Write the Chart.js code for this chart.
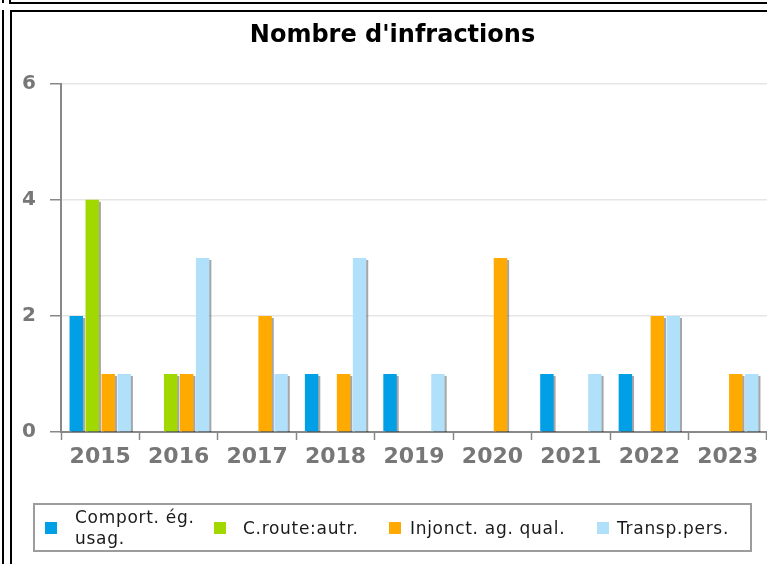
<!DOCTYPE html>
<html>
<head>
<meta charset="utf-8">
<script src="https://cdn.jsdelivr.net/npm/chart.js@4"></script>
<style>
  html, body { margin: 0; padding: 0; background: #fff; }
  #wrap { position: relative; width: 767px; height: 564px; overflow: hidden; }
  #c { position: absolute; left: 0; top: 0; }
  .ln { position: absolute; background: #000; }
  #legend {
    position: absolute; left: 33px; top: 503px; width: 719px; height: 49px;
    box-sizing: border-box; border: 2px solid #9c9c9c;
    font-family: "DejaVu Sans", sans-serif; font-size: 17px; letter-spacing: 0.7px; color: #1a1a1a;
  }
  .sw { position: absolute; width: 12px; height: 12px; top: 17px; }
  .tx { position: absolute; white-space: pre; line-height: 21px; top: 50%; transform: translateY(-50%); }
</style>
</head>
<body>
<div id="wrap">
  <canvas id="c" width="767" height="564"></canvas>
  <div class="ln" style="left:2px;top:0;width:2px;height:3px"></div>
  <div class="ln" style="left:2px;top:10px;width:2px;height:554px"></div>
  <div class="ln" style="left:9px;top:0;width:2px;height:3px"></div>
  <div class="ln" style="left:9px;top:2px;width:758px;height:2px"></div>
  <div class="ln" style="left:10px;top:10px;width:757px;height:2px"></div>
  <div class="ln" style="left:10px;top:10px;width:2px;height:554px"></div>
  <div id="legend"></div>
</div>
<script>
const categories = ['2015', '2016', '2017', '2018', '2019', '2020', '2021', '2022', '2023'];
const seriesNames = ['Comport. ég.\nusag.', 'C.route:autr.', 'Injonct. ag. qual.', 'Transp.pers.'];
const comportEgUsag = [2, 0, 0, 1, 1, 0, 1, 1, 0];
const crouteAutr    = [4, 1, 0, 0, 0, 0, 0, 0, 0];
const injonctAgQual = [1, 1, 2, 1, 0, 3, 0, 2, 1];
const transpPers    = [1, 3, 1, 3, 1, 0, 1, 2, 1];
const yTicks = [0, 2, 4, 6];

const seriesValues = [comportEgUsag, crouteAutr, injonctAgQual, transpPers];
const seriesColors = ['#009fe6', '#a0d800', '#ffaa00', '#b0e0fa'];
// legend item positions (square left, text left) relative to page
const legendSwatchX = [45, 214, 389, 597];
const legendTextX = [75, 243, 410, 617];

const shadowPlugin = {
  id: 'barShadow',
  beforeDatasetsDraw(chart) {
    const ctx = chart.ctx;
    ctx.save();
    ctx.shadowColor = 'rgba(0,0,0,0.35)';
    ctx.shadowOffsetX = 2;
    ctx.shadowOffsetY = 2;
    ctx.shadowBlur = 0;
  },
  afterDatasetsDraw(chart) {
    chart.ctx.restore();
  }
};

const gray = '#888888';
const labelGray = '#777777';

new Chart(document.getElementById('c'), {
  type: 'bar',
  data: {
    labels: categories,
    datasets: seriesValues.map((vals, i) => ({
      label: seriesNames[i].replace('\n', ' '),
      data: vals,
      backgroundColor: seriesColors[i],
      borderWidth: 0,
      categoryPercentage: 0.815,
      barPercentage: 0.84
    }))
  },
  options: {
    responsive: false,
    animation: false,
    events: [],
    layout: { padding: { left: 18, right: 0, top: 0, bottom: 92 } },
    plugins: {
      legend: { display: false },
      tooltip: { enabled: false },
      title: {
        display: true,
        text: "Nombre d'infractions",
        color: '#000',
        font: { family: 'DejaVu Sans', size: 24, weight: 'bold' },
        padding: { top: 21, bottom: 34 }
      }
    },
    scales: {
      x: {
        offset: true,
        grid: { display: true, drawOnChartArea: false, drawTicks: true, tickLength: 8, tickColor: gray, tickWidth: 1.5, offset: true },
        border: { display: true, color: gray, width: 2 },
        ticks: { color: labelGray, font: { family: 'DejaVu Sans', size: 22, weight: 'bold' }, padding: 4, maxRotation: 0, autoSkip: false },
        afterFit(s) { s.height = 40; }
      },
      y: {
        min: 0, max: 6,
        afterBuildTicks(s) { s.ticks = yTicks.map(v => ({ value: v })); },
        grid: { color: '#e6e6e6', lineWidth: 1.5, tickColor: gray, tickLength: 11, tickWidth: 1.5 },
        border: { display: true, color: gray, width: 2 },
        ticks: { color: labelGray, font: { family: 'DejaVu Sans', size: 20, weight: 'bold' }, padding: 14 },
        afterFit(s) { s.width = 43; }
      }
    }
  },
  plugins: [shadowPlugin]
});

const legend = document.getElementById('legend');
const boxLeft = 35; // legend left + border
seriesNames.forEach((name, i) => {
  const sw = document.createElement('div');
  sw.className = 'sw';
  sw.style.left = (legendSwatchX[i] - boxLeft) + 'px';
  sw.style.background = seriesColors[i];
  const tx = document.createElement('div');
  tx.className = 'tx';
  tx.style.left = (legendTextX[i] - boxLeft) + 'px';
  tx.textContent = name;
  legend.appendChild(sw);
  legend.appendChild(tx);
});
</script>
</body>
</html>
